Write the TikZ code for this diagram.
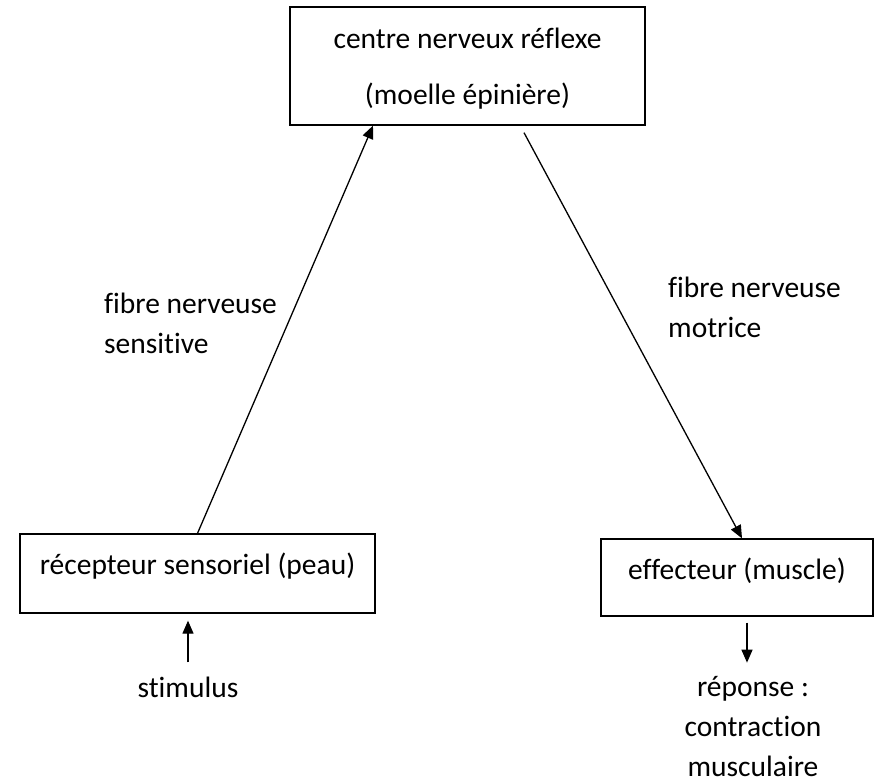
\documentclass[tikz,border=0pt]{standalone}
\usepackage{fontspec}
\setmainfont[Ligatures=CommonOff]{Carlito}
\usetikzlibrary{arrows.meta}
\begin{document}
\begin{tikzpicture}[x=1pt,y=-1pt,
  every node/.style={font=\fontsize{29.5}{40}\selectfont, inner sep=0pt},
  boxnode/.style={draw, line width=1.3pt},
  arr/.style={line width=1.3pt, -{Triangle[length=13pt,width=11pt]}}]
\useasboundingbox (0,0) rectangle (875,782);
\node[boxnode, minimum width=355pt, minimum height=118pt, align=center,
      text depth=0pt, font=\fontsize{29.5}{56}\selectfont] (cnr) at (467.5,66)
      {centre nerveux réflexe\\(moelle épinière)};
\node[boxnode, minimum width=355pt, minimum height=79pt,
      text height=20pt, text depth=19pt] (rec) at (197.5,573.5)
      {récepteur sensoriel (peau)};
\node[boxnode, minimum width=272pt, minimum height=77pt,
      text height=20pt, text depth=17pt] (eff) at (737,577.5)
      {effecteur (muscle)};
\node[anchor=base] (stim) at (188,697) {stimulus};
\node[anchor=base, align=center, text depth=0pt] (rep) at (753,776)
      {réponse :\\contraction\\musculaire};
\node[anchor=base west, align=left] (fs) at (104,353)
      {fibre nerveuse\\sensitive};
\node[anchor=base west, align=left] (fm) at (668,337)
      {fibre nerveuse\\motrice};
\draw[arr] (rec.north) -- ([xshift=-94.5pt]cnr.south);
\draw[arr] ([xshift=56.5pt,yshift=-7pt]cnr.south) -- ([xshift=5pt]eff.north);
\draw[arr] ([yshift=14pt]stim.north) -- ([xshift=-9.5pt,yshift=-7pt]rec.south);
\draw[arr] ([xshift=10pt,yshift=-6pt]eff.south) -- ([xshift=-6pt,yshift=13pt]rep.north);
\end{tikzpicture}
\end{document}
